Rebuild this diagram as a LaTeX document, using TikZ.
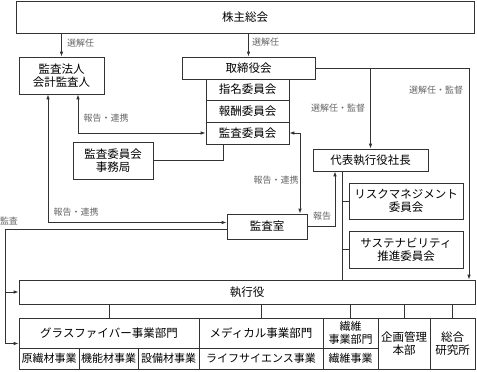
\documentclass[tikz,border=0pt]{standalone}
\usepackage{fontspec}
\setmainfont{Noto Sans CJK JP}
\usetikzlibrary{arrows.meta}
\tikzset{
  orgbox/.style 2 args={draw=black!80, line width=0.8pt, inner sep=0pt, align=center,
    minimum width=#1, minimum height=#2, font=\fontsize{11.5pt}{13.5pt}\selectfont},
  subtxt/.style={font=\fontsize{11pt}{12.5pt}\selectfont},          % bottom row
  lbl/.style={text=black!60, inner sep=0pt, font=\fontsize{9pt}{10pt}\selectfont},
  conn/.style={draw=black!80, line width=0.8pt},
  arr/.style={conn, -{Latex[length=5pt,width=3.6pt]}},
  darr/.style={conn, {Latex[length=5pt,width=3.6pt]}-{Latex[length=5pt,width=3.6pt]}},
}
\begin{document}
\begin{tikzpicture}[x=1pt, y=-1pt]
  \useasboundingbox (0,0) rectangle (477,372);
  % boards and committees
  \node[orgbox={458pt}{32pt}] (sokai) at (245,17) {株主総会};
  \node[orgbox={85pt}{37pt}] (hojin) at (61.5,75.5) {監査法人\\会計監査人};
  \node[orgbox={133pt}{22pt}] (torishimari) at (248.5,68) {取締役会};
  \node[orgbox={83pt}{21pt}] (shimei) at (247.5,89.5) {指名委員会};
  \node[orgbox={83pt}{22pt}] (hoshu) at (247.5,111) {報酬委員会};
  \node[orgbox={83pt}{22pt}] (kansaiin) at (247.5,133) {監査委員会};
  \node[orgbox={80pt}{37pt}] (jimukyoku) at (113,160.5) {監査委員会\\事務局};
  \node[orgbox={115pt}{22pt}] (daihyo) at (370.5,160) {代表執行役社長};
  \node[orgbox={114pt}{36pt}] (risk) at (406,201) {リスクマネジメント\\委員会};
  \node[orgbox={114pt}{37pt}] (sustain) at (406,249.5) {サステナビリティ\\推進委員会};
  \node[orgbox={80pt}{25pt}] (kansashitsu) at (267,226.5) {監査室};
  \node[orgbox={456pt}{24pt}] (shikko) at (247,292) {執行役};
  % divisions
  \node[orgbox={180pt}{30pt}] (gf) at (109,333) {グラスファイバー事業部門};
  \node[orgbox={124pt}{30pt}] (med) at (261,333) {メディカル事業部門};
  \node[orgbox={55pt}{30pt}, subtxt] (senih) at (350.5,333) {繊維\\事業部門};
  \node[orgbox={60pt}{21pt}, subtxt] (gen) at (49,358.5) {原繊材事業};
  \node[orgbox={59pt}{21pt}, subtxt] (kino) at (108.5,358.5) {機能材事業};
  \node[orgbox={61pt}{21pt}, subtxt] (setsubi) at (168.5,358.5) {設備材事業};
  \node[orgbox={124pt}{21pt}, subtxt] (life) at (261,358.5) {ライフサイエンス事業};
  \node[orgbox={55pt}{21pt}, subtxt] (seni) at (350.5,358.5) {繊維事業};
  \node[orgbox={52pt}{51pt}] (kikaku) at (404,343.5) {企画管理\\本部};
  \node[orgbox={45pt}{51pt}] (soken) at (452.5,343.5) {総合\\研究所};

  % connectors
  \draw[arr] (hojin.north |- sokai.south) -- (hojin.north);
  \draw[arr] (torishimari.north |- sokai.south) -- (torishimari.north);
  \draw[darr] ([xshift=16.5pt]hojin.south) |- (kansaiin.west);
  \draw[darr] ([xshift=-13.5pt]hojin.south) |- ([yshift=4pt]kansashitsu.west);
  \draw[conn] (jimukyoku.east) -| ([xshift=-24.5pt]kansaiin.south);
  \draw[darr] (kansaiin.east) -| ([xshift=33pt]kansashitsu.north);
  \draw[arr] (kansashitsu.east) -| ([xshift=-35.5pt]daihyo.south);
  \coordinate (rt) at ([xshift=222pt]shikko.north);
  \draw[arr] (torishimari.east) -| (rt);
  \draw[arr] (torishimari.east -| daihyo.north) -- (daihyo.north);
  \coordinate (ds) at ([xshift=-28.5pt]daihyo.south);
  \draw[conn] (ds) -- (ds |- shikko.north);
  \draw[conn] (ds |- risk.west) -- (risk.west);
  \draw[conn] (ds |- sustain.west) -- (sustain.west);
  % audit line on the left
  \coordinate (kw) at ([yshift=-3pt]kansashitsu.west);
  \coordinate (kx) at (5,0);
  \draw[arr] (kw) -- (kw -| kx) |- (gf.west |- kikaku.west);
  \draw[arr] (kx |- shikko.west) -- (shikko.west);
  \foreach \n in {gf,med,senih,kikaku,soken}
    \draw[conn] (\n.north |- shikko.south) -- (\n.north);

  % labels
  \node[lbl] (l1) at (80.5,43) {選解任};
  \node[lbl] (l2) at (265.5,42) {選解任};
  \node[lbl] (l3) at (106,118) {報告・連携};
  \node[lbl] (l4) at (76,212) {報告・連携};
  \node[lbl] (l5) at (276,180) {報告・連携};
  \node[lbl] (l6) at (322,216) {報告};
  \node[lbl] (l7) at (338,108) {選解任・監督};
  \node[lbl] (l8) at (436,90) {選解任・監督};
  \node[lbl] (l9) at (9,221) {監査};
\end{tikzpicture}
\end{document}
